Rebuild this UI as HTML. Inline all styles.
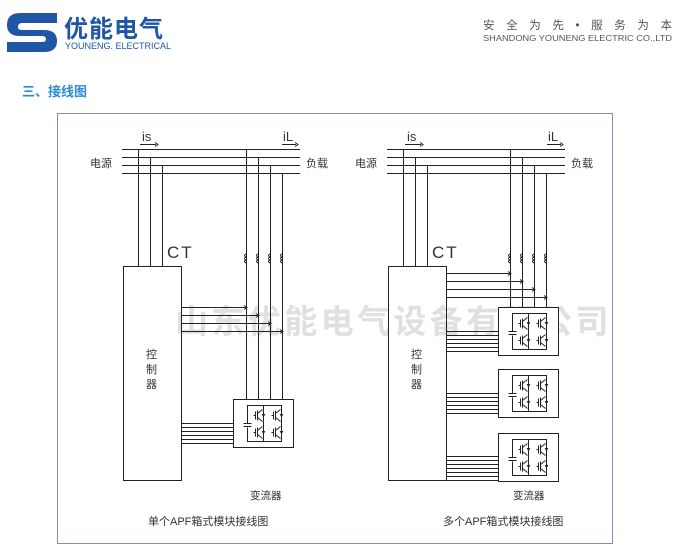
<!DOCTYPE html>
<html><head><meta charset="utf-8"><style>
body{margin:0;background:#fff;width:698px;height:551px;overflow:hidden;font-family:"Liberation Sans","Noto Sans CJK SC",sans-serif}
</style></head><body>
<svg width="698" height="551" viewBox="0 0 698 551" xmlns="http://www.w3.org/2000/svg" font-family="Liberation Sans, Noto Sans CJK SC, sans-serif">
<defs>
<g id="igbt" stroke="#222" stroke-width="1" fill="none">
<line x1="-5" y1="-4" x2="-5" y2="4"/><line x1="-7" y1="0" x2="-5" y2="0"/>
<line x1="-3" y1="-5" x2="-3" y2="5"/>
<line x1="-3" y1="-2" x2="2" y2="-6"/><line x1="-3" y1="2" x2="2" y2="6"/>
<line x1="3" y1="-3" x2="3" y2="3"/><path d="M2 -1 L4 -1 L3 1 Z" fill="#222"/>
</g>
<g id="conv" stroke="#222" stroke-width="1" fill="none">
<rect x="0" y="0" width="60" height="48" fill="#fff"/>
<polyline points="14,24 14,6 48,6 48,42 14,42 14,28"/>
<line x1="10" y1="24" x2="18" y2="24"/><line x1="10" y1="27" x2="18" y2="27"/>
<line x1="30" y1="6" x2="30" y2="42"/>
<use href="#igbt" x="27" y="16"/><use href="#igbt" x="45" y="16"/>
<use href="#igbt" x="27" y="33"/><use href="#igbt" x="45" y="33"/>
</g>
<g id="ind" stroke="#222" stroke-width="1" fill="none">
<path d="M0 0 q-3 1.5 0 3 q-3 1.5 0 3 q-3 1.5 0 3"/>
</g>
</defs>

<!-- header -->
<path d="M20 13 H57 V23 H22 Q18 23 18 27 Q18 30 22 30 H44 Q57 30 57 41 Q57 52 44 52 H7 V42 H42 Q46 42 46 39 Q46 36 42 36 H20 Q7 36 7 25 Q7 13 20 13 Z" fill="#1f57a6"/>
<text x="64" y="37" font-size="24" font-weight="bold" fill="#1f57a6" letter-spacing="1">优能电气</text>
<text x="65" y="49" font-size="9" fill="#1f57a6">YOUNENG. ELECTRICAL</text>
<text x="483" y="29" font-size="11.5" fill="#555" textLength="189" lengthAdjust="spacing">安全为先•服务为本</text>
<text x="483" y="41" font-size="8.5" fill="#555" textLength="189" lengthAdjust="spacingAndGlyphs">SHANDONG YOUNENG ELECTRIC CO.,LTD</text>
<text x="22" y="96" font-size="13" font-weight="bold" fill="#2b8bd6">三、接线图</text>

<rect x="57.5" y="113.5" width="555" height="430" fill="none" stroke="#8888c8" stroke-width="1"/>

<text x="175" y="333" font-size="33" font-weight="bold" fill="#e0e0e0" letter-spacing="3.4">山东优能电气设备有限公司</text>

<g stroke="#222" stroke-width="1" fill="none">
<!-- LEFT -->
<line x1="122" y1="149.5" x2="300" y2="149.5"/><line x1="122" y1="157.5" x2="300" y2="157.5"/>
<line x1="122" y1="165.5" x2="300" y2="165.5"/><line x1="122" y1="173.5" x2="300" y2="173.5"/>
<line x1="140" y1="144.5" x2="156" y2="144.5"/><path d="M155 142.5 L158 144.5 L155 146.5"/>
<line x1="282" y1="144.5" x2="296" y2="144.5"/><path d="M295 142.5 L298 144.5 L295 146.5"/>
<line x1="138.5" y1="149" x2="138.5" y2="266"/><line x1="150.5" y1="157" x2="150.5" y2="266"/><line x1="162.5" y1="165" x2="162.5" y2="266"/>
<rect x="123.5" y="266.5" width="58" height="214" fill="none"/>
<line x1="246.5" y1="149" x2="246.5" y2="399"/><line x1="258.5" y1="157" x2="258.5" y2="399"/>
<line x1="270.5" y1="165" x2="270.5" y2="399"/><line x1="282.5" y1="173" x2="282.5" y2="399"/>
<use href="#ind" x="246" y="254"/><use href="#ind" x="258" y="254"/><use href="#ind" x="270" y="254"/><use href="#ind" x="282" y="254"/>
<line x1="181" y1="307.5" x2="246" y2="307.5"/><line x1="181" y1="315.5" x2="258" y2="315.5"/>
<line x1="181" y1="323.5" x2="270" y2="323.5"/><line x1="181" y1="331.5" x2="282" y2="331.5"/>
<path d="M244 305.5 L247 307.5 L244 309.5 M256 313.5 L259 315.5 L256 317.5 M268 321.5 L271 323.5 L268 325.5 M280 329.5 L283 331.5 L280 333.5" fill="none"/>
<line x1="181" y1="423.5" x2="233" y2="423.5"/><line x1="181" y1="427.5" x2="233" y2="427.5"/><line x1="181" y1="431.5" x2="233" y2="431.5"/>
<line x1="181" y1="435.5" x2="233" y2="435.5"/><line x1="181" y1="439.5" x2="233" y2="439.5"/><line x1="181" y1="443.5" x2="233" y2="443.5"/>
<use href="#conv" x="233.5" y="399.5"/>

<!-- RIGHT -->
<line x1="387" y1="149.5" x2="565" y2="149.5"/><line x1="387" y1="157.5" x2="565" y2="157.5"/>
<line x1="387" y1="165.5" x2="565" y2="165.5"/><line x1="387" y1="173.5" x2="565" y2="173.5"/>
<line x1="405" y1="144.5" x2="421" y2="144.5"/><path d="M420 142.5 L423 144.5 L420 146.5"/>
<line x1="547" y1="144.5" x2="561" y2="144.5"/><path d="M560 142.5 L563 144.5 L560 146.5"/>
<line x1="403.5" y1="149" x2="403.5" y2="266"/><line x1="415.5" y1="157" x2="415.5" y2="266"/><line x1="427.5" y1="165" x2="427.5" y2="266"/>
<rect x="388.5" y="266.5" width="58" height="214" fill="none"/>
<line x1="446" y1="480.5" x2="558" y2="480.5"/>
<line x1="510.5" y1="149" x2="510.5" y2="307"/><line x1="522.5" y1="157" x2="522.5" y2="307"/>
<line x1="534.5" y1="165" x2="534.5" y2="307"/><line x1="546.5" y1="173" x2="546.5" y2="307"/>
<use href="#ind" x="510" y="254"/><use href="#ind" x="522" y="254"/><use href="#ind" x="534" y="254"/><use href="#ind" x="546" y="254"/>
<line x1="446" y1="273.5" x2="510" y2="273.5"/><line x1="446" y1="281.5" x2="522" y2="281.5"/>
<line x1="446" y1="289.5" x2="534" y2="289.5"/><line x1="446" y1="297.5" x2="546" y2="297.5"/>
<path d="M508 271.5 L511 273.5 L508 275.5 M520 279.5 L523 281.5 L520 283.5 M532 287.5 L535 289.5 L532 291.5 M544 295.5 L547 297.5 L544 299.5"/>
<g>
<line x1="446" y1="331.5" x2="498" y2="331.5"/><line x1="446" y1="335.5" x2="498" y2="335.5"/><line x1="446" y1="339.5" x2="498" y2="339.5"/>
<line x1="446" y1="343.5" x2="498" y2="343.5"/><line x1="446" y1="347.5" x2="498" y2="347.5"/><line x1="446" y1="351.5" x2="498" y2="351.5"/>
</g>
<g transform="translate(0,62)">
<line x1="446" y1="331.5" x2="498" y2="331.5"/><line x1="446" y1="335.5" x2="498" y2="335.5"/><line x1="446" y1="339.5" x2="498" y2="339.5"/>
<line x1="446" y1="343.5" x2="498" y2="343.5"/><line x1="446" y1="347.5" x2="498" y2="347.5"/><line x1="446" y1="351.5" x2="498" y2="351.5"/>
</g>
<g transform="translate(0,125)">
<line x1="446" y1="331.5" x2="498" y2="331.5"/><line x1="446" y1="335.5" x2="498" y2="335.5"/><line x1="446" y1="339.5" x2="498" y2="339.5"/>
<line x1="446" y1="343.5" x2="498" y2="343.5"/><line x1="446" y1="347.5" x2="498" y2="347.5"/><line x1="446" y1="351.5" x2="498" y2="351.5"/>
</g>
<use href="#conv" x="498.5" y="307.5"/>
<use href="#conv" x="498.5" y="369.5"/>
<use href="#conv" x="498.5" y="433.5"/>
</g>

<g font-size="11" fill="#333">
<text x="142" y="141" font-size="13">is</text><text x="283" y="141" font-size="13">iL</text>
<text x="407" y="141" font-size="13">is</text><text x="548" y="141" font-size="13">iL</text>
<text x="90" y="167">电源</text><text x="306" y="167">负载</text>
<text x="355" y="167">电源</text><text x="571" y="167">负载</text>
<text x="167" y="258" font-size="17" letter-spacing="2">CT</text>
<text x="432" y="258" font-size="17" letter-spacing="2">CT</text>
<text x="146" y="358">控</text><text x="146" y="373">制</text><text x="146" y="388">器</text>
<text x="411" y="358">控</text><text x="411" y="373">制</text><text x="411" y="388">器</text>
<text x="250" y="499" font-size="10.5">变流器</text>
<text x="513" y="499" font-size="10.5">变流器</text>
<text x="148" y="525" font-size="11">单个APF箱式模块接线图</text>
<text x="443" y="525" font-size="11">多个APF箱式模块接线图</text>
</g>
</svg>
</body></html>
